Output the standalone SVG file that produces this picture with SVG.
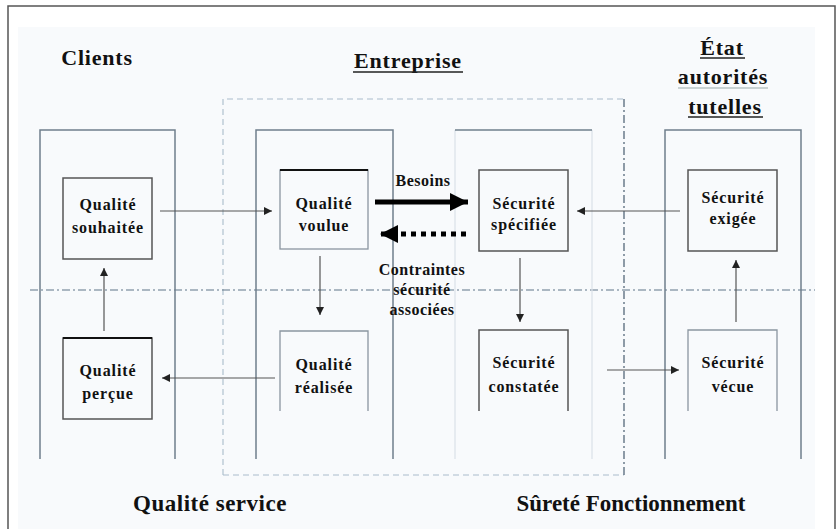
<svg xmlns="http://www.w3.org/2000/svg" width="839" height="529" viewBox="0 0 839 529">
<defs>
<marker id="ah" viewBox="0 0 10 10" refX="10" refY="5" markerWidth="9" markerHeight="8" markerUnits="userSpaceOnUse" orient="auto">
<path d="M0,0 L10,5 L0,10 Z" fill="#222"/>
</marker>
<marker id="big" viewBox="0 0 10 10" refX="10" refY="5" markerWidth="22" markerHeight="18" markerUnits="userSpaceOnUse" orient="auto">
<path d="M0,0 L10,5 L0,10 Z" fill="#000"/>
</marker>
<style>
.t{font-family:"Liberation Serif","Times New Roman",serif;font-weight:bold;fill:#111;text-anchor:middle}
.bx{font-size:16px;letter-spacing:0.9px}
.hd{font-size:22px;letter-spacing:0.8px}
.ft{font-size:23px}
.col{fill:none;stroke:#6f7f8c;stroke-width:1.5}
.colf{fill:none;stroke:#dbe2e8;stroke-width:1.2}
.box{fill:none;stroke:#555;stroke-width:1.5}
.boxl{fill:none;stroke:#8a96a0;stroke-width:1.3}
.topd{stroke:#111;stroke-width:2}
.ln{fill:none;stroke:#555;stroke-width:1.2;marker-end:url(#ah)}
.ul{stroke:#222;stroke-width:1.5}
</style>
</defs>
<rect x="0" y="0" width="839" height="529" fill="#fff"/>
<rect x="8" y="6" width="827" height="540" fill="#fff" stroke="#555" stroke-width="1.5"/>
<rect x="18" y="27" width="797" height="510" fill="#f8fafc"/>

<g id="enterprise-zone">
<path d="M223,475 L223,99 L624,99" fill="none" stroke="#a9bccb" stroke-width="1.1" stroke-dasharray="6,4"/>
<path d="M223,475 L624,475" fill="none" stroke="#a9bccb" stroke-width="1.1" stroke-dasharray="6,4"/>
<path d="M624,99 L624,475" fill="none" stroke="#55697a" stroke-width="1.3" stroke-dasharray="8,3,2,3"/>
</g>
<line x1="30" y1="290" x2="815" y2="290" stroke="#5f7488" stroke-width="1.2" stroke-dasharray="8,3,2,3"/>

<g id="col-clients"><path class="col" d="M40,459 L40,130 L175,130 L175,459"/></g>
<g id="col-qualite"><path class="col" d="M256,459 L256,130 L393,130 L393,459"/></g>
<g id="col-securite"><path class="colf" d="M455,459 L455,130 M592,130 L592,459"/><line x1="455" y1="130" x2="592" y2="130" class="col"/></g>
<g id="col-etat"><path class="col" d="M665,459 L665,130 L801,130 L801,459"/></g>

<g id="title-clients"><text class="t hd" x="97" y="65">Clients</text></g>
<g id="title-entreprise"><text class="t hd" x="408" y="68">Entreprise</text><line class="ul" x1="353" y1="72" x2="463" y2="72"/></g>
<g id="title-etat">
<text class="t hd" x="722" y="55">État</text><line class="ul" x1="700" y1="58" x2="745" y2="58"/>
<text class="t hd" x="723" y="84">autorités</text><line x1="678" y1="88" x2="768" y2="88" stroke="#9aa" stroke-width="1"/>
<text class="t hd" x="725" y="114">tutelles</text><line class="ul" x1="688" y1="117" x2="763" y2="117"/>
</g>

<g id="qualite-souhaitee"><rect class="box" x="63" y="178" width="89" height="81"/><text class="t bx" x="108" y="210">Qualité</text><text class="t bx" x="108" y="233">souhaitée</text></g>
<g id="qualite-voulue"><rect class="boxl" x="280" y="170" width="88" height="79"/><line class="topd" x1="280" y1="170" x2="368" y2="170"/><text class="t bx" x="324" y="209">Qualité</text><text class="t bx" x="324" y="231">voulue</text></g>
<g id="securite-specifiee"><rect class="box" x="479" y="170" width="89" height="81"/><text class="t bx" x="524" y="209">Sécurité</text><text class="t bx" x="524" y="230">spécifiée</text></g>
<g id="securite-exigee"><rect class="box" x="688" y="170" width="89" height="81"/><text class="t bx" x="733" y="203">Sécurité</text><text class="t bx" x="733" y="224">exigée</text></g>
<g id="qualite-percue"><rect class="box" x="63" y="338" width="89" height="81"/><line class="topd" x1="63" y1="338" x2="152" y2="338"/><text class="t bx" x="108" y="376">Qualité</text><text class="t bx" x="108" y="399">perçue</text></g>
<g id="qualite-realisee"><path class="boxl" d="M280,411 L280,331 L368,331 L368,411"/><text class="t bx" x="324" y="370">Qualité</text><text class="t bx" x="324" y="393">réalisée</text></g>
<g id="securite-constatee"><path class="box" d="M479,411 L479,330 L568,330 L568,411"/><text class="t bx" x="524" y="368">Sécurité</text><text class="t bx" x="524" y="392">constatée</text></g>
<g id="securite-vecue"><path class="boxl" d="M688,411 L688,330 L777,330 L777,411"/><text class="t bx" x="733" y="368">Sécurité</text><text class="t bx" x="733" y="392">vécue</text></g>

<g id="connectors">
<line class="ln" x1="160" y1="211" x2="272" y2="211"/>
<line class="ln" x1="320" y1="256" x2="320" y2="315"/>
<line class="ln" x1="275" y1="378" x2="162" y2="378"/>
<line class="ln" x1="104" y1="331" x2="104" y2="268"/>
<line class="ln" x1="520" y1="258" x2="520" y2="322"/>
<line class="ln" x1="680" y1="211" x2="577" y2="211"/>
<line class="ln" x1="736" y1="322" x2="736" y2="260"/>
<line class="ln" x1="607" y1="370" x2="679" y2="370"/>
<line x1="375" y1="202" x2="468" y2="202" stroke="#000" stroke-width="5" marker-end="url(#big)"/>
<line x1="466" y1="234" x2="380" y2="234" stroke="#000" stroke-width="5" stroke-dasharray="5,5" marker-end="url(#big)"/>
<text class="t bx" x="423" y="186" style="letter-spacing:0.5px">Besoins</text>
<text class="t bx" x="422" y="275" style="letter-spacing:0.5px">Contraintes</text>
<text class="t bx" x="422" y="295" style="letter-spacing:0.5px">sécurité</text>
<text class="t bx" x="422" y="315" style="letter-spacing:0.5px">associées</text>
</g>

<g id="footer">
<text class="t ft" x="210" y="511" style="letter-spacing:0.5px">Qualité service</text>
<text class="t ft" x="631" y="511">Sûreté Fonctionnement</text>
</g>
</svg>
